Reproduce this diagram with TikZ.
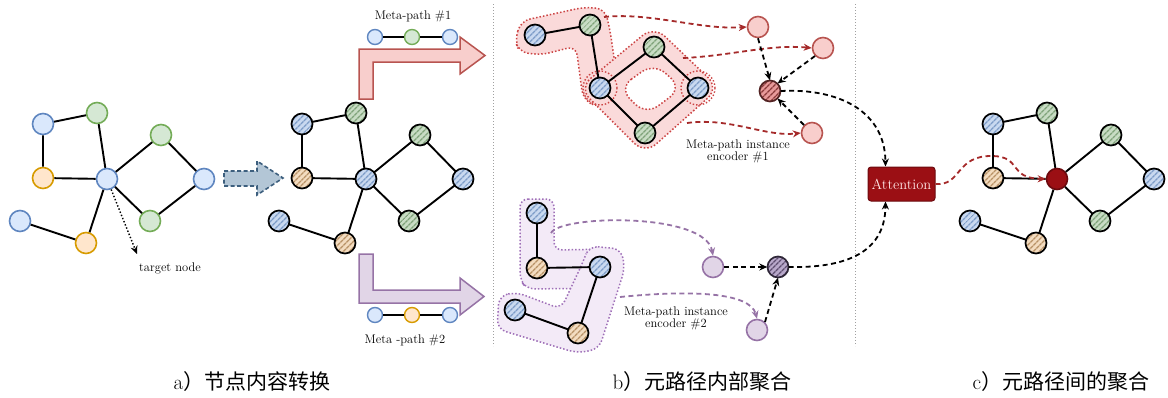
\documentclass[tikz,border=0pt]{standalone}
\usepackage{fontspec}
\newfontfamily\cjk{Noto Sans CJK SC}
\usetikzlibrary{arrows.meta,patterns.meta}
\definecolor{bl}{HTML}{DAE8FC}\definecolor{bd}{HTML}{5F86C0}
\definecolor{gl}{HTML}{D5E8D4}\definecolor{gd}{HTML}{74AC58}
\definecolor{ol}{HTML}{FFE6CC}\definecolor{od}{HTML}{D79B00}
\definecolor{rl}{HTML}{F8CECC}\definecolor{rd}{HTML}{B85450}
\definecolor{pl}{HTML}{E1D5E7}\definecolor{pd}{HTML}{9673A6}
\definecolor{hbl}{HTML}{C9D9F0}\definecolor{hbd}{HTML}{7D9CC8}
\definecolor{hgl}{HTML}{C8DCC4}\definecolor{hgd}{HTML}{7FA37A}
\definecolor{hol}{HTML}{F3DCC0}\definecolor{hod}{HTML}{B89266}
\definecolor{hrl}{HTML}{E89A9A}\definecolor{hrd}{HTML}{8A3A3A}
\definecolor{hpl}{HTML}{B8A8CA}\definecolor{hpd}{HTML}{5E4E70}
\definecolor{darr}{HTML}{A52A2A}
\definecolor{attc}{HTML}{9B0F14}
\definecolor{blobr}{HTML}{FADADA}\definecolor{blobrd}{HTML}{CC4444}
\definecolor{blobp}{HTML}{F3EAF7}\definecolor{blobpd}{HTML}{9F70B8}
\definecolor{sepc}{HTML}{A0A0A0}
\definecolor{garr}{HTML}{B3C6D6}\definecolor{garrd}{HTML}{3D5F7E}
\tikzset{
  nd/.style={circle,minimum size=21pt,inner sep=0pt,line width=1.6pt},
  pb/.style={nd,fill=bl,draw=bd},
  pg/.style={nd,fill=gl,draw=gd},
  po/.style={nd,fill=ol,draw=od},
  sb/.style={circle,minimum size=15pt,inner sep=0pt,line width=1.4pt,fill=bl,draw=bd},
  sg/.style={sb,fill=gl,draw=gd},
  so/.style={sb,fill=ol,draw=od},
  rc/.style={nd,fill=rl,draw=rd},
  pc/.style={nd,fill=pl,draw=pd},
  hatch/.style n args={3}{circle,minimum size=21pt,inner sep=0pt,fill=#1,
     postaction={pattern={Lines[angle=45,distance=4pt,line width=1.5pt]},pattern color=#2},
     postaction={draw=#3,line width=1.7pt}},
  hb/.style={hatch={hbl}{hbd}{black}},
  hg/.style={hatch={hgl}{hgd}{black}},
  ho/.style={hatch={hol}{hod}{black}},
  hr/.style={hatch={hrl}{hrd}{hrd!60!black}},
  hp/.style={hatch={hpl}{hpd}{hpd!50!black}},
  ccen/.style={nd,fill=attc,draw=attc!70!black},
  edge/.style={line width=1.9pt,black},
  rdash/.style={line width=1.8pt,darr,dash pattern=on 5pt off 3.5pt,-{Stealth[length=8pt,width=7pt]}},
  kdash/.style={line width=1.8pt,black,dash pattern=on 5pt off 3.5pt,-{Stealth[length=8pt,width=7pt]}},
  pdash/.style={line width=1.8pt,pd,dash pattern=on 5pt off 3.5pt,-{Stealth[length=8pt,width=7pt]}},
  rblob/.style={fill=blobr,draw=blobrd,line width=1.5pt,dotted},
  pblob/.style={fill=blobp,draw=blobpd,line width=1.5pt,dotted},
  lab/.style={font=\fontsize{12.5}{14}\selectfont,inner sep=0pt},
  captxt/.style={font=\fontsize{21}{24}\selectfont,inner sep=0pt}
}
\newcommand\hgraph[6]{%
\begin{scope}[xshift=#2pt]
\node[#3] (#1b1) at (302,124) {};
\node[#4] (#1g1) at (356,113) {};
\node[#5] (#1o1) at (302,178) {};
\node[#6] (#1c)  at (366,179) {};
\node[#4] (#1g2) at (420,135) {};
\node[#3] (#1bR) at (463,179) {};
\node[#4] (#1g3) at (409,221) {};
\node[#3] (#1bL) at (279,221) {};
\node[#5] (#1o2) at (345,243) {};
\end{scope}
\draw[edge] (#1b1)--(#1g1) (#1b1)--(#1o1) (#1o1)--(#1c) (#1g1)--(#1c)
  (#1c)--(#1g2) (#1g2)--(#1bR) (#1bR)--(#1g3) (#1g3)--(#1c) (#1c)--(#1o2) (#1o2)--(#1bL);
}
\begin{document}
\begin{tikzpicture}[x=1pt,y=-1pt]
\useasboundingbox (0,0) rectangle (1168,397);
% separators
\draw[sepc,line width=1pt,dotted] (493,4) -- (493,346);
\draw[sepc,line width=1pt,dotted] (855,4) -- (855,346);
% blobs (panel b top)
\draw[rblob,rounded corners=9pt] (515,40) -- (521,21) -- (585,7) -- (605,9) -- (610,30) -- (617,78) -- (616,101) -- (598,108) -- (583,99) -- (576,46) -- (541,55) -- (519,52) -- cycle;
\draw[rblob,even odd rule,rounded corners=15pt] (579,88) -- (654,26) -- (719,88) -- (645,154) -- cycle
  (619,88) -- (654,63) -- (682,88) -- (646,115) -- cycle;
\draw[blobrd,line width=1.4pt,dotted] (600,88) circle (17) (698,88) circle (17);
% blobs (panel b bottom)
\draw[pblob,rounded corners=8pt] (520,199) -- (554,199) -- (554,250) -- (613,249) -- (619,270) -- (613,288) -- (527,289) -- (520,280) -- cycle;
\draw[pblob,rounded corners=9pt] (589,246) -- (621,249) -- (625,268) -- (599,349) -- (577,353) -- (497,329) -- (499,296) -- (516,292) -- (561,309) -- (583,262) -- cycle;
% graphs
\hgraph{a}{-259}{pb}{pg}{po}{pb}
\hgraph{m}{0}{hb}{hg}{ho}{hb}
\hgraph{z}{691}{hb}{hg}{ho}{ccen}
% panel a extras
\coordinate (tgt) at (137,254);
\draw[line width=1.4pt,dotted,-{Stealth[length=8pt,width=7pt]}] (ac) -- (tgt);
\node[lab] (tlab) at (170,268) {target node};
% grey dashed block arrow
\draw[fill=garr,draw=garrd,line width=1.6pt,dash pattern=on 4pt off 2.5pt]
  (224,171) -- (257,171) -- (257,161) -- (283,178) -- (257,195) -- (257,186) -- (224,186) -- cycle;
% bent arrows
\draw[fill=rl,draw=rd,line width=1.5pt] (359,99) -- (359,49) -- (460,49) -- (460,37) -- (485,55.5) -- (460,74) -- (460,62) -- (373,62) -- (373,99) -- cycle;
\draw[fill=pl,draw=pd,line width=1.5pt] (359,254) -- (359,303) -- (460,303) -- (460,315) -- (484,296.5) -- (460,278) -- (460,290) -- (373,290) -- (373,254) -- cycle;
% meta-path chains
\node[lab] (mp1) at (413,16) {Meta-path \#1};
\node[sb] (k1) at (375,37) {};
\node[sg] (k2) at (412,37) {};
\node[sb] (k3) at (450,37) {};
\draw[edge] (k1)--(k2) (k2)--(k3);
\node[lab] (mp2) at (405,340) {Meta -path \#2};
\node[sb] (q1) at (375,315) {};
\node[so] (q2) at (412,315) {};
\node[sb] (q3) at (450,315) {};
\draw[edge] (q1)--(q2) (q2)--(q3);
% panel b top
\node[hb] (A) at (535,35) {};
\node[hg] (B) at (590,25) {};
\node[hb] (C) at (600,88) {};
\node[hg] (D) at (654,47) {};
\node[hb] (E) at (698,88) {};
\node[hg] (F) at (645,133) {};
\draw[edge] (A)--(B) (B)--(C) (C)--(D) (D)--(E) (E)--(F) (F)--(C);
\node[rc] (R1) at (758,27) {};
\node[rc] (R2) at (823,48) {};
\node[rc] (R3) at (812,133) {};
\node[hr] (Hr) at (770,91) {};
\coordinate (s1) at (604,17);
\coordinate (s2) at (683,58);
\coordinate (s3) at (687,123);
\draw[rdash] (s1) .. controls (650,12) and (700,30) .. (R1.west);
\draw[rdash] (s2) .. controls (730,56) and (770,44) .. (R2.west);
\draw[rdash] (s3) .. controls (730,117) and (765,137) .. (R3.west);
\draw[kdash] (R1.south) -- (Hr.north);
\draw[kdash] (R2.south west) -- (Hr.north east);
\draw[kdash] (R3.north west) -- (Hr.south east);
\node[lab,align=center] (enc1) at (738,151) {Meta-path instance\\[-2pt]encoder \#1};
% panel b bottom
\node[hb] (G) at (537,213) {};
\node[ho] (H) at (537,268) {};
\node[hb] (I) at (600,267) {};
\node[hb] (J) at (515,310) {};
\node[ho] (K) at (578,333) {};
\draw[edge] (G)--(H) (H)--(I) (I)--(K) (K)--(J);
\node[pc] (P1) at (713,267) {};
\node[pc] (P2) at (757,330) {};
\node[hp] (Hp) at (778,267) {};
\coordinate (t1) at (551,233);
\coordinate (t2) at (620,297);
\draw[pdash] (t1) .. controls (560,215) and (705,212) .. (P1.north);
\draw[pdash] (t2) .. controls (690,290) and (750,292) .. (P2.north);
\draw[kdash] (P1.east) -- (Hp.west);
\draw[kdash] (P2.north east) -- (Hp.south);
\node[lab,align=center] (enc2) at (676,318) {Meta-path instance\\[-2pt]encoder \#2};
% attention
\node[rectangle,rounded corners=3pt,fill=attc,draw=attc!70!black,line width=1pt,minimum width=67pt,minimum height=34pt,inner sep=0pt,text=white!90!red,font=\fontsize{14.5}{16}\selectfont] (Att) at (901.5,184) {Attention};
\draw[kdash] (Hr.east) .. controls (840,88) and (885,112) .. ([xshift=-16pt]Att.north);
\draw[kdash] (Hp.east) .. controls (840,268) and (885,256) .. ([xshift=-16pt]Att.south);
\draw[rdash] (Att.east) .. controls (962,186) and (955,155) .. (993,156) .. controls (1022,157) and (1008,178) .. (zc.west);
% captions
\node[captxt] (ca) at (252,382) {a{\cjk）节点内容转换}};
\node[captxt] (cb) at (702,382) {b{\cjk）元路径内部聚合}};
\node[captxt] (ccap) at (1061,382) {c{\cjk）元路径间的聚合}};
\end{tikzpicture}
\end{document}
